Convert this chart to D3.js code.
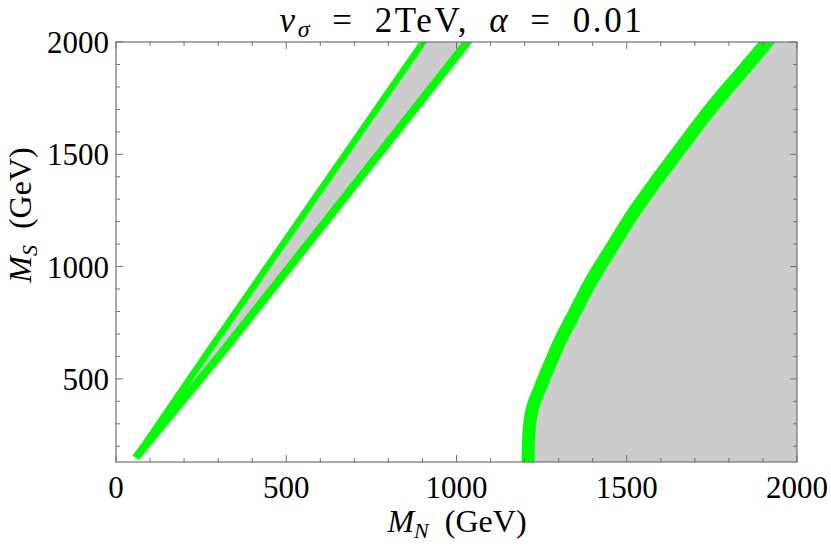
<!DOCTYPE html>
<html>
<head>
<meta charset="utf-8">
<script src="https://cdn.jsdelivr.net/npm/d3@7"></script>
<style>
  html, body { margin: 0; padding: 0; background: #fff; }
  svg { display: block; }
  text { font-family: "Liberation Serif", "DejaVu Serif", serif; fill: #000; }
</style>
</head>
<body>
<svg id="chart" width="831" height="550"></svg>
<script>
// ---- data (GeV) ----
const xDomain = [0, 2000];
const yDomain = [130, 2000];
const xTickLabels = [0, 500, 1000, 1500, 2000];
const yTickLabels = [500, 1000, 1500, 2000];
const minorStep = 100;

// left wedge: steeper (upper) boundary and shallower (lower) boundary  [M_N, M_S]
const wedgeUpper = [[58, 150], [268, 615], [902, 2000], [916, 2030]];
const wedgeLower = [[58, 150], [310, 615], [1032, 2000], [1046, 2030]];

// right region boundary  [M_N, M_S]
const rightBoundary = [
  [1210, 100], [1210, 130], [1211, 200], [1215, 300], [1225, 380], [1243, 450],
  [1263, 525], [1284, 600], [1306, 675], [1347, 795], [1397, 940],
  [1458, 1090], [1520, 1240], [1588, 1385], [1662, 1535], [1750, 1710],
  [1834, 1860], [1912, 2000], [1930, 2035]
];
const rightCorner = [[2060, 2060], [2060, 80]];

// ---- layout ----
const svg = d3.select("#chart");
const L = 116, R = 797, T = 42, B = 462;
const x = d3.scaleLinear().domain(xDomain).range([L, R]);
const y = d3.scaleLinear().domain(yDomain).range([B, T]);

const GRAY = "#cccccc", GREEN = "#00ff00", FRAME = "#707070";

svg.append("clipPath").attr("id", "plotclip")
  .append("rect").attr("x", L).attr("y", T).attr("width", R - L).attr("height", B - T);

const plot = svg.append("g").attr("clip-path", "url(#plotclip)");

const lineLin = d3.line().x(d => x(d[0])).y(d => y(d[1]));
const lineCurve = d3.line().x(d => x(d[0])).y(d => y(d[1])).curve(d3.curveCatmullRom.alpha(0.5));

// gray fills
plot.append("path")
  .attr("d", lineLin(wedgeUpper.concat(wedgeLower.slice().reverse())) + "Z")
  .attr("fill", GRAY);

plot.append("path")
  .attr("d", lineCurve(rightBoundary) + "L" + rightCorner.map(d => x(d[0]) + "," + y(d[1])).join("L") + "Z")
  .attr("fill", GRAY);

// green boundaries
plot.append("path").attr("d", lineLin(wedgeUpper))
  .attr("fill", "none").attr("stroke", GREEN).attr("stroke-width", 6.5).attr("stroke-linejoin", "round");
plot.append("path").attr("d", lineLin(wedgeLower))
  .attr("fill", "none").attr("stroke", GREEN).attr("stroke-width", 8).attr("stroke-linejoin", "round");
plot.append("path").attr("d", lineCurve(rightBoundary))
  .attr("fill", "none").attr("stroke", GREEN).attr("stroke-width", 13);

// ---- frame with inward ticks ----
const frame = svg.append("g");
frame.append("rect").attr("x", L).attr("y", T).attr("width", R - L).attr("height", B - T)
  .attr("fill", "none").attr("stroke", FRAME).attr("stroke-width", 1.2);

const xMinor = d3.range(xDomain[0], xDomain[1] + 1, minorStep);
const yMinor = d3.range(200, yDomain[1] + 1, minorStep);
const isMajor = v => v % 500 === 0;

xMinor.forEach(v => {
  const len = isMajor(v) ? 7 : 4;
  frame.append("line").attr("x1", x(v)).attr("x2", x(v)).attr("y1", B).attr("y2", B - len)
    .attr("stroke", FRAME).attr("stroke-width", 1);
  frame.append("line").attr("x1", x(v)).attr("x2", x(v)).attr("y1", T).attr("y2", T + len)
    .attr("stroke", FRAME).attr("stroke-width", 1);
});
yMinor.forEach(v => {
  const len = isMajor(v) ? 7 : 4;
  frame.append("line").attr("y1", y(v)).attr("y2", y(v)).attr("x1", L).attr("x2", L + len)
    .attr("stroke", FRAME).attr("stroke-width", 1);
  frame.append("line").attr("y1", y(v)).attr("y2", y(v)).attr("x1", R).attr("x2", R - len)
    .attr("stroke", FRAME).attr("stroke-width", 1);
});

// tick labels
const FS = 31;
svg.append("g").selectAll("text").data(xTickLabels).join("text")
  .attr("x", d => x(d)).attr("y", 498)
  .attr("text-anchor", "middle").attr("font-size", FS)
  .text(d => d);

svg.append("g").selectAll("text").data(yTickLabels).join("text")
  .attr("x", 109).attr("y", d => y(d) + 11)
  .attr("text-anchor", "end").attr("font-size", FS)
  .text(d => d);

// axis titles
const xl = svg.append("text").attr("x", 457).attr("y", 532).attr("text-anchor", "middle").attr("font-size", 32);
xl.append("tspan").attr("font-style", "italic").text("M");
xl.append("tspan").attr("font-style", "italic").attr("font-size", 22).attr("dy", 6).text("N");
xl.append("tspan").attr("dy", -6).text("\u2002(GeV)");

const yl = svg.append("text").attr("transform", "translate(31,215) rotate(-90)")
  .attr("text-anchor", "middle").attr("font-size", 32);
yl.append("tspan").attr("font-style", "italic").text("M");
yl.append("tspan").attr("font-style", "italic").attr("font-size", 22).attr("dy", 6).text("S");
yl.append("tspan").attr("dy", -6).text("\u2002(GeV)");

// title
const tt = svg.append("text").attr("x", 462).attr("y", 32).attr("text-anchor", "middle")
  .attr("font-size", 35).attr("letter-spacing", 2.6);
tt.append("tspan").attr("font-style", "italic").text("v");
tt.append("tspan").attr("font-style", "italic").attr("font-size", 24).attr("dy", 5).text("\u03c3");
tt.append("tspan").attr("dy", -5).text("\u2002=\u20022TeV,\u2002");
tt.append("tspan").attr("font-style", "italic").text("\u03b1");
tt.append("tspan").text("\u2002=\u20020.01");
</script>
</body>
</html>
